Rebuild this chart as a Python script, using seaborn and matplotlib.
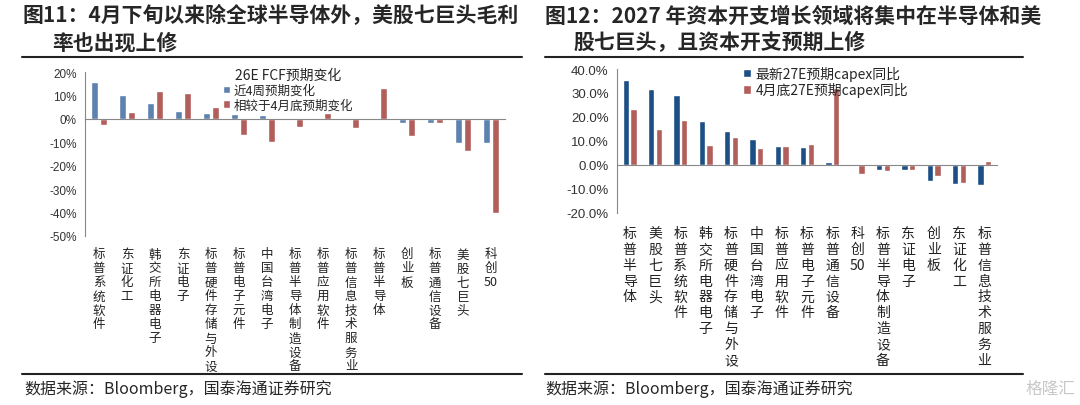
import matplotlib
matplotlib.use("Agg")
import matplotlib.pyplot as plt
import matplotlib.transforms as mtransforms
import seaborn as sns
import pandas as pd

# ---- 图11 数据 ----
left_cats = ["标普系统软件", "东证化工", "韩交所电器电子", "东证电子", "标普硬件存储与外设",
             "标普电子元件", "中国台湾电子", "标普半导体制造设备", "标普应用软件",
             "标普信息技术服务业", "标普半导体", "创业板", "标普通信设备", "美股七巨头", "科创50"]
left_4w = [15.7, 10.3, 6.9, 3.3, 2.6, 2.1, 1.7, 0.2, 0.2, 0.1, -0.5, -1.6, -1.9, -10.1, -10.4]
left_apr = [-2.7, 2.9, 11.9, 11.1, 5.0, -7.0, -9.9, -3.3, 2.3, -3.7, 13.0, -7.4, -1.7, -13.9, -40.0]
left_series = ["近4周预期变化", "相较于4月底预期变化"]

# ---- 图12 数据 ----
right_cats = ["标普半导体", "美股七巨头", "标普系统软件", "韩交所电器电子", "标普硬件存储与外设",
              "中国台湾电子", "标普应用软件", "标普电子元件", "标普通信设备", "科创50",
              "标普半导体制造设备", "东证电子", "创业板", "东证化工", "标普信息技术服务业"]
right_new = [35.4, 31.8, 29.0, 18.5, 14.2, 10.8, 7.9, 7.6, 1.25, 0.0, -2.1, -2.1, -6.7, -7.8, -8.3]
right_apr = [23.5, 15.1, 18.7, 8.3, 11.5, 6.9, 7.8, 8.7, 31.9, -3.7, -2.6, -2.2, -4.4, -7.6, 1.5]
right_series = ["最新27E预期capex同比", "4月底27E预期capex同比"]

sns.set_style("white")
plt.rcParams["font.family"] = ["Noto Sans CJK SC", "DejaVu Sans"]
plt.rcParams["axes.unicode_minus"] = False

fig = plt.figure(figsize=(10.8, 4.06), dpi=100)
W, H = 1080, 406


def px_axes(x0, y_top, x1, y_bot):
    return fig.add_axes([x0 / W, 1 - y_bot / H, (x1 - x0) / W, (y_bot - y_top) / H])


def vert(s):
    out = []
    for ch in s:
        if ch.isdigit() and out and out[-1][-1].isdigit():
            out[-1] += ch
        else:
            out.append(ch)
    return "\n".join(out)


def draw_panel(ax, cats, a, b, names, colors, ylim, yticks, fmt, tick_fs, lab_fs, lab_y, lab_ls):
    df = pd.DataFrame({
        "cat": cats * 2,
        "val": a + b,
        "series": [names[0]] * len(cats) + [names[1]] * len(cats),
    })
    sns.barplot(data=df, x="cat", y="val", hue="series", palette=colors,
                width=0.6, gap=0.2, ax=ax, legend=True)
    ax.set_ylim(*ylim)
    ax.set_yticks(yticks)
    ax.set_yticklabels([fmt.format(t) for t in yticks], fontsize=tick_fs, color="#333333",
                       family=["Liberation Sans", "DejaVu Sans"])
    ax.set_xlim(-0.5, len(cats) - 0.5)
    ax.set_xlabel("")
    ax.set_ylabel("")
    for s in ["top", "right"]:
        ax.spines[s].set_visible(False)
    ax.spines["left"].set_color("#888888")
    ax.spines["bottom"].set_color("#888888")
    ax.spines["bottom"].set_position(("data", 0))
    ax.set_xticks([i + 0.5 for i in range(-1, len(cats))])
    ax.set_xticklabels([])
    ax.tick_params(axis="x", direction="out", length=4, color="#888888", width=0.8)
    ax.tick_params(axis="y", direction="out", length=4, color="#888888", width=0.8, pad=2)
    trans = mtransforms.blended_transform_factory(ax.transData, ax.transAxes)
    for i, c in enumerate(cats):
        ax.text(i, lab_y, vert(c), transform=trans, ha="center", va="top",
                fontsize=lab_fs, linespacing=lab_ls, color="#222222")


# ---- 左图 ----
ax1 = px_axes(85, 73, 505, 237)
draw_panel(ax1, left_cats, left_4w, left_apr, left_series, ["#4F81BD", "#C0504D"],
           (-50, 20), list(range(-50, 21, 10)), "{:.0f}%", 8.5, 9, -0.07, 1.1)
ax1.legend(title="26E FCF预期变化", loc="upper left", bbox_to_anchor=(0.31, 1.07),
           frameon=False, fontsize=9, title_fontsize=10, handlelength=0.6,
           handleheight=0.6, handletextpad=0.3, labelspacing=0.15, borderpad=0.1)

# ---- 右图 ----
ax2 = px_axes(617, 70, 997, 214)
draw_panel(ax2, right_cats, right_new, right_apr, right_series, ["#0B4F96", "#C0504D"],
           (-20, 40), list(range(-20, 41, 10)), "{:.1f}%", 9.5, 10, -0.09, 1.17)
ax2.legend(loc="upper left", bbox_to_anchor=(0.31, 1.08), frameon=False, fontsize=10,
           handlelength=0.6, handleheight=0.6, handletextpad=0.3, labelspacing=0.1,
           borderpad=0.1)

# ---- 标题与来源 ----
fig.text(22 / W, 1 - 16 / H, "图11：4月下旬以来除全球半导体外，美股七巨头毛利",
         fontsize=15, fontweight="bold", va="center")
fig.text(52 / W, 1 - 43 / H, "率也出现上修", fontsize=15, fontweight="bold", va="center")
fig.text(545 / W, 1 - 16 / H, "图12：2027 年资本开支增长领域将集中在半导体和美",
         fontsize=15, fontweight="bold", va="center")
fig.text(573 / W, 1 - 43 / H, "股七巨头，且资本开支预期上修", fontsize=15,
         fontweight="bold", va="center")

for x0, x1 in [(22, 522), (545, 1023)]:
    fig.add_artist(plt.Line2D([x0 / W, x1 / W], [1 - 58 / H, 1 - 58 / H], color="#222222", lw=1.5))
    fig.add_artist(plt.Line2D([x0 / W, x1 / W], [1 - 375 / H, 1 - 375 / H], color="#222222", lw=1.5))

fig.text(24 / W, 1 - 389 / H, "数据来源：Bloomberg，国泰海通证券研究", fontsize=11.5, va="center")
fig.text(545 / W, 1 - 389 / H, "数据来源：Bloomberg，国泰海通证券研究", fontsize=11.5, va="center")
fig.text(1075 / W, 1 - 389 / H, "格隆汇", fontsize=12, va="center", ha="right", color="#C8C8C8")

fig.savefig("out.png", dpi=100)
